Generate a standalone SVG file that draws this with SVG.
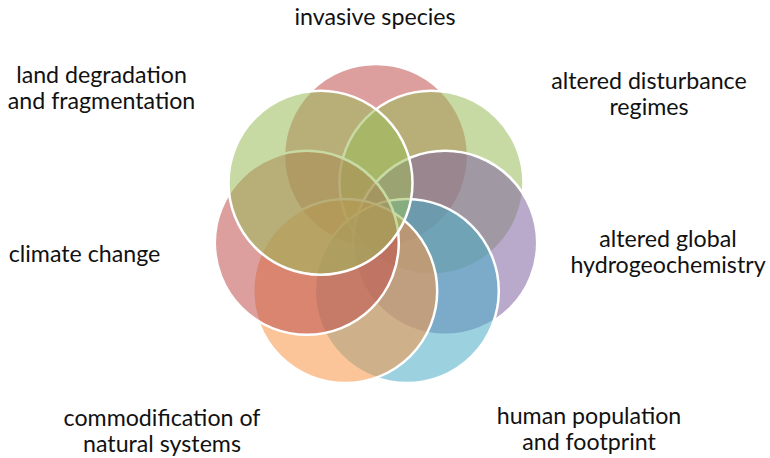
<svg xmlns="http://www.w3.org/2000/svg" width="770" height="458" viewBox="0 0 770 458">
<style>
.c{stroke:#ffffff;stroke-width:2.5;fill-opacity:0.55}
.t{font-family:Lato,"Noto Sans","Liberation Sans",sans-serif;font-size:23.2px;fill:#111111;text-anchor:middle}
</style>
<rect width="770" height="458" fill="#ffffff"/>
<g id="circles">
<g id="n-invasive"><circle class="c" cx="376" cy="156" r="92" fill="#C0504D"/></g>
<g id="n-disturbance"><circle class="c" cx="431.5" cy="182.7" r="92" fill="#9BBB59"/></g>
<g id="n-hydro"><circle class="c" cx="445.2" cy="242.8" r="92" fill="#8064A2"/></g>
<g id="n-human"><circle class="c" cx="406.8" cy="291" r="92" fill="#4BACC6"/></g>
<g id="n-commod"><circle class="c" cx="345.2" cy="291" r="92" fill="#F79646"/></g>
<g id="n-climate"><circle class="c" cx="306.8" cy="242.8" r="92" fill="#C0504D"/></g>
<g id="n-land"><circle class="c" cx="320.5" cy="182.7" r="92" fill="#9BBB59"/></g>
</g>
<g id="connectors"></g>
<g id="labels">
<text class="t" x="375" y="25">invasive species</text>
<text class="t" x="101.5" y="83">land degradation</text>
<text class="t" x="101.5" y="109">and fragmentation</text>
<text class="t" x="649" y="89">altered disturbance</text>
<text class="t" x="649" y="115">regimes</text>
<text class="t" x="84.5" y="262">climate change</text>
<text class="t" x="668" y="247">altered global</text>
<text class="t" x="668" y="273">hydrogeochemistry</text>
<text class="t" x="162" y="426">commodification of</text>
<text class="t" x="162" y="452">natural systems</text>
<text class="t" x="589" y="424">human population</text>
<text class="t" x="589" y="450">and footprint</text>
</g>
</svg>
